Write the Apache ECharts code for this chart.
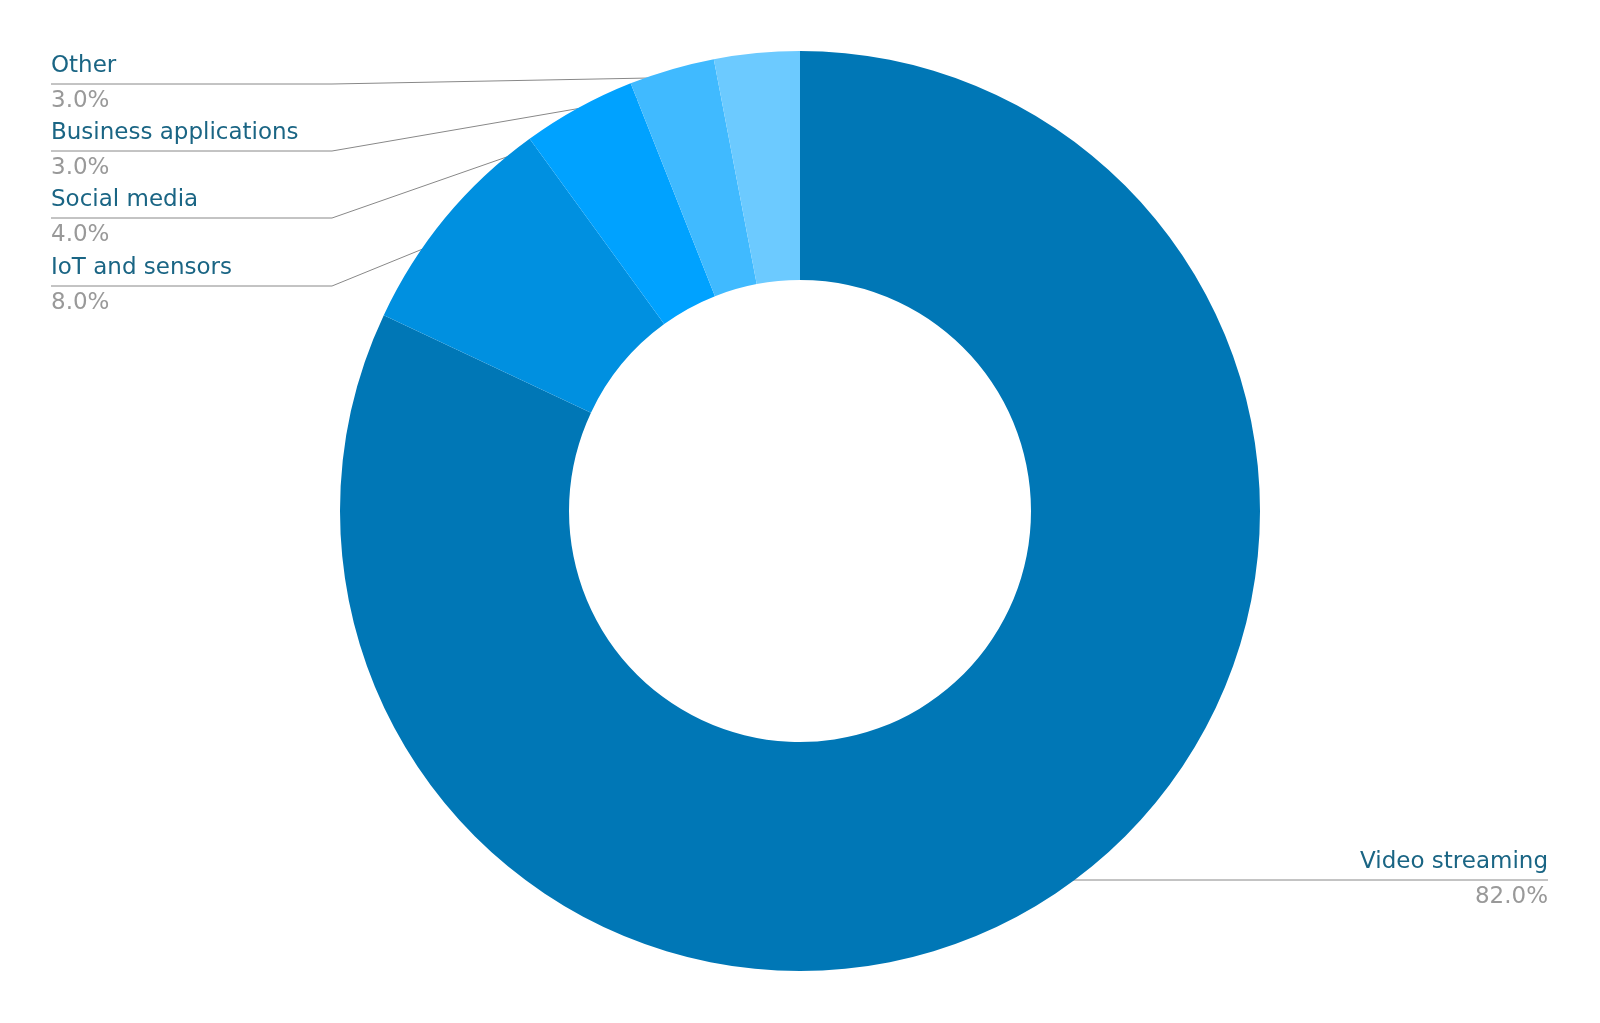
<!DOCTYPE html>
<html><head><meta charset="utf-8">
<script src="https://cdn.jsdelivr.net/npm/echarts@6/dist/echarts.min.js"></script>
<style>html,body{margin:0;padding:0;background:#fff}#c{width:1600px;height:1023px}</style>
</head><body><div id="c"></div>
<script>
const categories = ["Video streaming","IoT and sensors","Social media","Business applications","Other"];
const values = [82,8,4,3,3];
const colors = ["#0077b6","#0090e0","#00a2ff","#40baff","#6ccaff"];
const CX=800, CY=511, R0=231, R1=460;
const total = values.reduce((a,b)=>a+b,0);
const leftY = {4:84,3:151,2:218,1:286};
function anchor(i){
  let cum=0; for(let k=0;k<i;k++) cum+=values[k];
  const th=(cum+values[i]/2)/total*2*Math.PI, r=R1*0.95;
  return [CX+r*Math.sin(th), CY-r*Math.cos(th)];
}
const chart = echarts.init(document.getElementById('c'));
chart.setOption({
  animation:false,
  series:[{
    type:'pie',
    center:[CX,CY],
    radius:[R0,R1],
    startAngle:90,
    clockwise:true,
    data:categories.map((n,i)=>({name:n,value:values[i],itemStyle:{color:colors[i]}})),
    label:{
      formatter:p=>'{a|'+p.name+'}\n{b|'+p.percent.toFixed(1)+'%}',
      rich:{
        a:{fontFamily:'DejaVu Sans',fontSize:23,color:'#1a6584',padding:[0,0,6,0]},
        b:{fontFamily:'DejaVu Sans',fontSize:23,color:'#999999',padding:[6,0,0,0]}
      }
    },
    labelLine:{show:true,lineStyle:{color:'#888',width:1}},
    labelLayout:function(p){
      const i=p.dataIndex, a=anchor(i);
      if(i===0){
        const y=880;
        return {x:1548,y:y,align:'right',verticalAlign:'middle',
          labelLinePoints:[a,[a[0]+5,y],[1548,y]]};
      }
      const y=leftY[i];
      return {x:51,y:y,align:'left',verticalAlign:'middle',
        labelLinePoints:[a,[332,y],[51,y]]};
    }
  }]
});
</script></body></html>
